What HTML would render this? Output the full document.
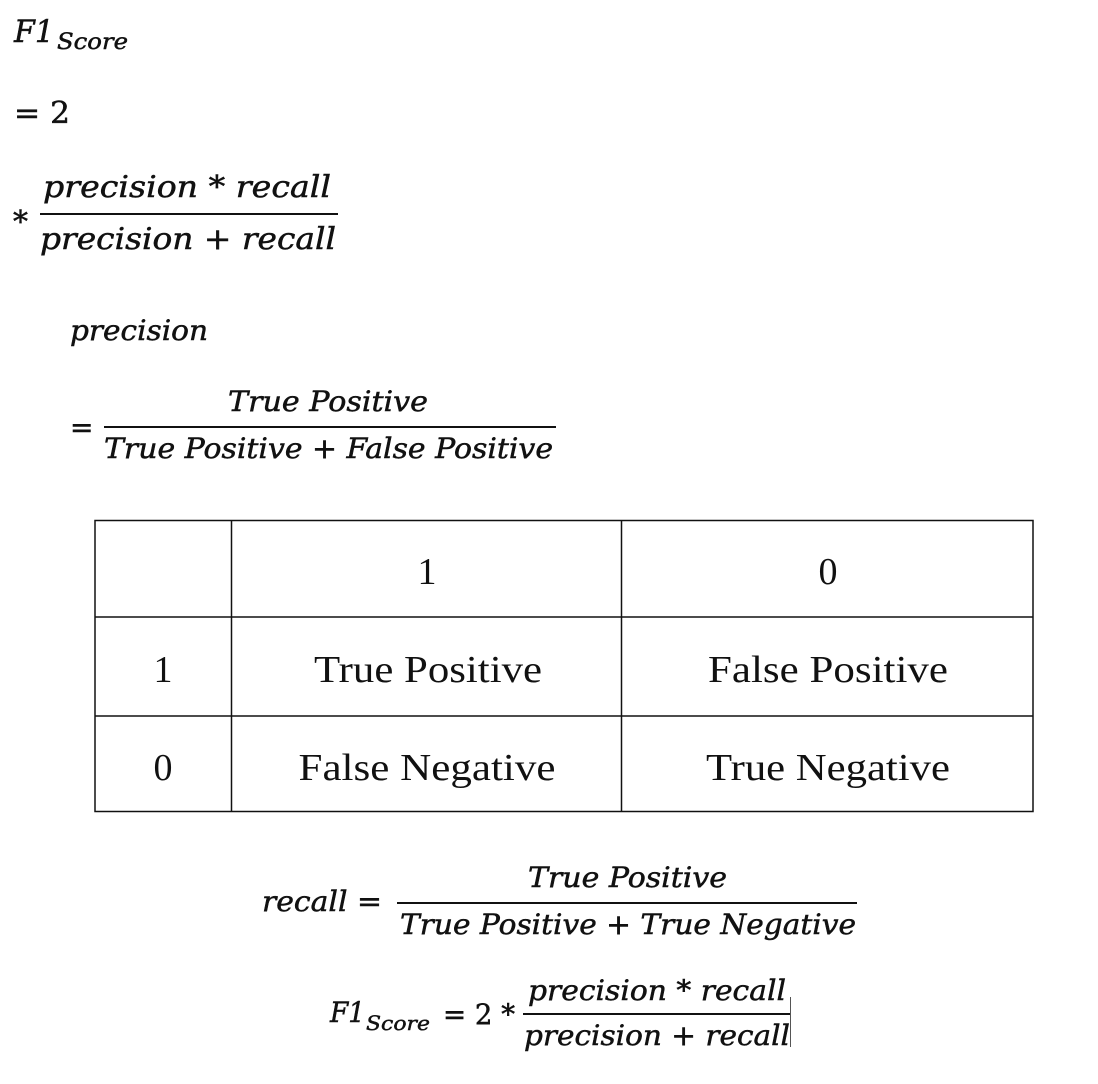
<!DOCTYPE html>
<html><head><style>
html,body{margin:0;padding:0;background:#fff;}
svg{display:block;}
.m{font-family:"DejaVu Serif","Liberation Serif",serif;font-style:italic;fill:#111;stroke:#111;stroke-width:0.5;}
.u{font-family:"DejaVu Serif","Liberation Serif",serif;fill:#111;stroke:#111;stroke-width:0.5;}
.t{font-family:"Liberation Serif",serif;fill:#111;}
</style></head><body>
<svg width="1098" height="1084" viewBox="0 0 1098 1084" xmlns="http://www.w3.org/2000/svg">
<!-- F1 top -->
<text class="m" x="14" y="42" font-size="31" textLength="40" lengthAdjust="spacingAndGlyphs">F1</text>
<text class="m" x="57" y="49" font-size="22" textLength="71" lengthAdjust="spacingAndGlyphs">Score</text>
<text class="u" x="14" y="123" font-size="30" textLength="56" lengthAdjust="spacingAndGlyphs">= 2</text>
<text class="u" x="13" y="232" font-size="30">*</text>
<text class="m" x="43" y="197" font-size="30" textLength="288" lengthAdjust="spacingAndGlyphs">precision * recall</text>
<rect x="40" y="213" width="298" height="2" fill="#111"/>
<text class="m" x="40" y="249" font-size="30" textLength="296" lengthAdjust="spacingAndGlyphs">precision + recall</text>
<!-- precision -->
<text class="m" x="70" y="340" font-size="28" textLength="138" lengthAdjust="spacingAndGlyphs">precision</text>
<text class="u" x="70" y="437" font-size="28">=</text>
<text class="m" x="228" y="411" font-size="28" textLength="200" lengthAdjust="spacingAndGlyphs">True Positive</text>
<rect x="104" y="426" width="452" height="2" fill="#111"/>
<text class="m" x="104" y="458" font-size="28" textLength="449" lengthAdjust="spacingAndGlyphs">True Positive + False Positive</text>
<!-- table -->
<g stroke="#111" stroke-width="1.5" fill="none">
<rect x="95" y="520.5" width="938" height="291"/>
<line x1="231.5" y1="520" x2="231.5" y2="812"/>
<line x1="621.5" y1="520" x2="621.5" y2="812"/>
<line x1="95" y1="617" x2="1033" y2="617"/>
<line x1="95" y1="716" x2="1033" y2="716"/>
</g>
<g class="t" font-size="38" text-anchor="middle">
<text x="427" y="584">1</text>
<text x="828" y="584">0</text>
<text x="163" y="682">1</text>
<text x="428" y="682" textLength="228" lengthAdjust="spacingAndGlyphs">True Positive</text>
<text x="828" y="682" textLength="240" lengthAdjust="spacingAndGlyphs">False Positive</text>
<text x="163" y="780">0</text>
<text x="427" y="780" textLength="257" lengthAdjust="spacingAndGlyphs">False Negative</text>
<text x="828" y="780" textLength="244" lengthAdjust="spacingAndGlyphs">True Negative</text>
</g>
<!-- recall -->
<text class="m" x="262" y="911" font-size="28" textLength="120" lengthAdjust="spacingAndGlyphs">recall =</text>
<text class="m" x="528" y="887" font-size="28" textLength="199" lengthAdjust="spacingAndGlyphs">True Positive</text>
<rect x="397" y="902" width="460" height="2" fill="#111"/>
<text class="m" x="400" y="934" font-size="28" textLength="456" lengthAdjust="spacingAndGlyphs">True Positive + True Negative</text>
<!-- F1 bottom -->
<text class="m" x="330" y="1022" font-size="28" textLength="35" lengthAdjust="spacingAndGlyphs">F1</text>
<text class="m" x="366" y="1030" font-size="20" textLength="64" lengthAdjust="spacingAndGlyphs">Score</text>
<text class="u" x="443" y="1024" font-size="28" textLength="72" lengthAdjust="spacingAndGlyphs">= 2 *</text>
<text class="m" x="528" y="1000" font-size="28" textLength="258" lengthAdjust="spacingAndGlyphs">precision * recall</text>
<rect x="523" y="1013" width="267" height="2" fill="#111"/>
<text class="m" x="524" y="1045" font-size="28" textLength="266" lengthAdjust="spacingAndGlyphs">precision + recall</text>
<rect x="790" y="997" width="1" height="50" fill="#555"/>
</svg>
</body></html>
